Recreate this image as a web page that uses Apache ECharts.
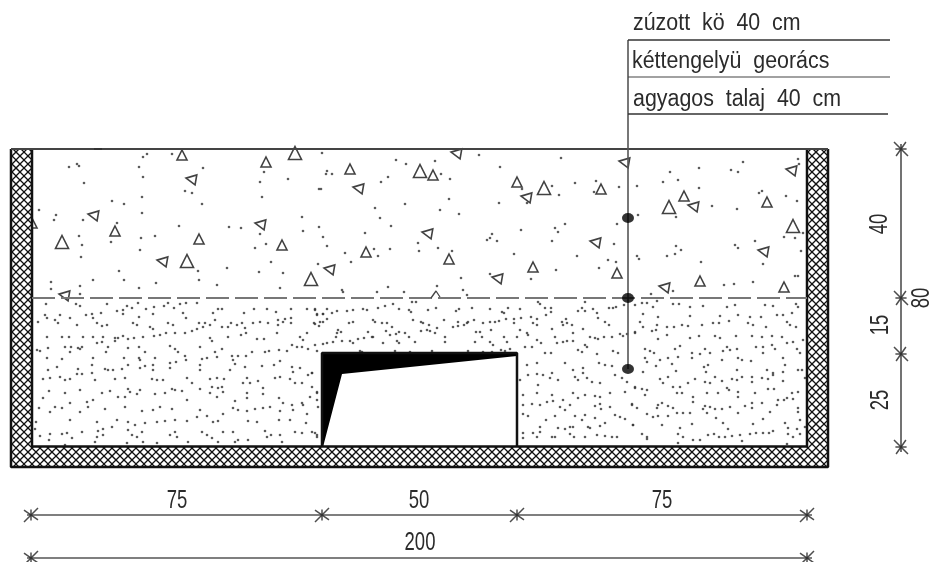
<!DOCTYPE html>
<html><head><meta charset="utf-8">
<script src="https://cdn.jsdelivr.net/npm/echarts@6/dist/echarts.min.js"></script>
<style>html,body{margin:0;padding:0;background:#fff}#c{width:939px;height:562px}</style>
</head><body><div id="c"></div>
<script>
// ---- values (drawing units = reference pixels) ----
var labelTexts = ['zúzott  kö  40  cm','kéttengelyü  georács','agyagos  talaj  40  cm','75','50','75','200','40','15','25','80'];
var labelX = [633,632,633,177,419,662,420,880,881,881,922];
var labelY = [24,62,100,501,501,501,543,224,325,400,298];
var labelVertical = [0,0,0,0,0,0,0,1,1,1,1];

var bigUp = [62,242,187,261,295,153,311,279,420,171,544,188,669,207,793,226];
var smallUp = [182,155,266,162,115,231,199,239,282,245,350,169,433,175,517,182,601,189,366,252,449,259,533,267,617,273,684,196,767,202,700,281,784,287,32,223];
var smallLeft = [191,179,93,215,260,224,162,261,64,295,456,153,624,162,358,188,526,197,427,233,595,242,329,269,497,278,791,170,693,206,763,251,664,287];

var gravelDots = [69,167,77,164,79,166,84,183,143,157,147,154,172,154,139,167,143,177,203,168,185,191,192,193,202,204,142,197,112,201,124,204,142,213,39,210,56,215,54,220,83,220,117,223,179,226,79,236,82,245,111,242,141,238,155,236,140,250,81,257,119,271,124,280,93,280,51,282,51,289,80,286,80,294,139,288,156,283,198,271,199,280,217,285,227,268,259,272,271,262,283,273,280,288,318,264,255,248,266,244,260,234,229,227,241,228,302,217,303,231,319,227,262,197,260,182,264,172,288,179,319,189,
322,153,396,160,406,164,435,161,479,155,500,167,561,158,327,171,326,174,332,174,388,177,381,182,441,174,450,179,321,189,449,199,405,204,375,208,440,210,459,214,380,218,391,226,365,233,323,237,327,246,345,253,351,262,374,249,390,249,378,256,418,243,419,251,438,248,452,251,461,278,490,274,437,286,388,287,342,290,343,292,377,292,404,292,463,290,467,295,499,203,527,203,522,189,552,186,559,195,575,183,596,181,594,192,619,187,617,224,565,224,555,228,558,232,552,241,521,230,492,234,490,238,487,240,497,241,514,254,577,256,614,244,608,260,616,262,599,268,556,270,531,279,
743,162,699,168,731,170,738,172,798,159,799,164,670,172,663,182,678,180,699,188,637,186,762,191,759,193,786,196,797,201,712,206,737,209,676,217,638,215,755,241,784,237,795,238,803,233,735,245,738,248,676,246,681,250,675,254,667,256,637,256,639,259,701,262,763,264,801,251,795,276,798,276,753,282,734,284,724,285,673,291,651,294];

var sandLeft = [46,304,76,304,80,306,107,304,117,311,123,310,127,306,132,308,138,303,146,309,154,307,164,306,168,303,174,308,180,304,186,303,197,303,183,313,186,318,218,309,222,309,244,313,254,309,267,309,276,312,291,309,307,309,315,310,323,314,317,315,
45,315,38,322,47,318,60,315,55,320,58,323,70,318,77,325,86,315,92,314,93,318,101,313,97,323,102,326,107,325,123,314,133,323,137,325,139,317,153,314,168,323,173,325,150,327,153,329,199,323,205,323,210,325,203,327,197,329,192,331,213,313,215,320,222,327,228,327,231,323,237,325,242,323,245,328,253,323,260,322,268,323,278,320,283,322,285,319,291,318,291,323,278,325,315,324,320,322,
47,337,62,337,69,337,83,337,93,337,103,337,115,338,118,338,123,336,128,339,134,338,143,337,154,336,160,335,166,333,175,333,185,333,210,338,212,341,228,337,241,335,246,333,257,339,264,339,277,333,300,337,303,340,307,333,97,343,102,342,115,341,
37,350,40,351,48,348,65,347,71,347,70,352,78,348,82,347,80,349,108,347,106,352,128,348,139,347,145,352,170,346,175,349,178,352,185,356,200,347,222,349,215,352,217,357,232,356,238,356,246,356,252,352,265,352,269,351,279,350,287,351,292,345,297,347,302,347,308,349,317,351,47,358,62,359,93,358,124,358,139,358,155,358,
48,370,57,367,78,369,77,374,82,374,92,365,92,373,105,369,108,370,113,370,122,369,128,365,140,360,140,368,145,366,153,365,153,370,170,363,176,362,170,368,186,360,202,359,200,365,200,370,207,358,233,360,235,364,230,370,245,367,262,366,274,365,280,361,292,367,293,372,300,368,312,373,308,375,
43,379,50,378,60,377,65,380,70,379,95,380,115,379,125,378,152,379,157,380,163,380,187,378,192,383,210,379,217,378,224,379,222,387,218,388,212,387,247,378,243,383,250,383,258,381,263,388,275,378,280,377,290,379,295,383,302,383,312,387,128,389,140,390,172,389,200,389,80,390,49,391,
65,393,43,398,93,400,87,402,102,393,110,391,125,397,118,397,130,392,137,394,155,394,165,393,175,390,182,391,187,400,210,393,217,397,223,392,235,401,247,393,247,398,263,394,279,398,283,403,302,403,310,397,317,393,
39,408,50,412,55,407,62,408,70,403,88,407,80,412,105,409,125,407,142,411,153,410,160,407,172,409,200,410,207,416,223,414,233,408,238,410,247,411,255,409,263,408,270,407,280,411,292,405,293,410,303,405,307,414,318,407,
36,422,70,420,97,422,117,420,128,422,135,425,145,423,157,422,165,421,175,420,187,421,197,417,213,422,218,421,248,421,257,422,279,420,290,420,306,423,35,429,62,434,67,433,82,432,103,429,112,427,98,431,128,430,142,432,175,432,202,432,223,432,233,432,265,431,295,432,315,433,
40,436,50,434,49,440,72,438,97,437,103,435,132,435,137,437,143,442,170,435,177,437,188,442,207,435,212,438,218,442,235,442,238,440,248,440,267,437,271,435,280,435,282,442,302,433,317,437,65,445,127,443,157,443,95,442];

var sandMiddle = [315,309,317,314,323,314,327,309,332,313,337,311,347,311,353,310,363,309,367,310,378,308,385,306,393,304,399,309,409,310,411,312,412,302,416,302,428,310,436,308,456,311,459,309,472,308,490,309,502,312,504,313,508,308,520,309,538,302,540,304,545,308,551,308,551,312,546,315,578,311,582,308,585,311,585,302,593,309,597,313,598,318,609,308,613,308,616,307,624,305,635,305,
314,323,319,326,323,322,327,319,349,323,353,322,373,320,375,322,382,323,387,323,392,327,413,320,421,322,423,323,429,325,444,320,453,327,458,326,458,322,464,325,467,323,468,322,474,320,483,323,490,322,495,322,499,321,506,319,514,319,521,318,514,323,531,317,537,319,533,323,537,325,562,322,566,319,567,323,563,325,572,325,605,322,609,325,
338,330,341,332,337,333,336,337,368,332,372,337,386,331,390,335,396,334,399,332,405,333,409,337,421,331,427,330,430,331,435,333,437,328,445,337,445,342,476,332,480,332,482,337,491,330,504,337,520,330,517,337,527,333,528,335,552,329,555,337,573,333,583,329,590,337,595,338,598,339,604,337,612,337,620,334,623,336,627,334,635,332,
315,345,323,344,327,343,333,342,342,341,350,341,353,343,358,339,364,338,373,337,383,343,397,341,399,343,415,342,475,342,490,342,493,345,507,342,537,340,541,343,532,347,525,347,557,343,563,342,567,341,573,341,585,345,587,347,597,354,578,350,582,352,613,351,618,353,
360,351,362,352,395,351,410,352,432,351,468,351,483,352,492,352,501,350,505,351,510,349,545,353,551,353,
527,365,537,363,528,375,537,374,543,375,552,373,565,363,573,370,583,368,583,373,575,377,538,385,550,378,558,380,578,380,587,378,592,382,600,383,520,380,537,393,523,395,552,395,573,393,585,395,578,398,595,396,600,397,610,393,625,392,523,405,532,404,540,405,547,402,553,401,563,400,570,405,560,407,565,410,600,404,595,406,601,409,610,407,632,404,523,414,528,416,555,416,546,420,575,416,585,415,582,420,595,418,615,415,620,417,625,419,523,433,533,433,540,427,540,432,558,428,565,429,570,427,573,427,570,434,585,437,588,427,590,428,600,426,605,423,597,435,605,436,612,437,617,437,523,438,537,437,552,437,555,437,574,437,633,425,615,375,622,378,627,382,635,388,599,363,605,365,612,366,317,392,317,400,312,373,312,432,317,435];

var sandRight = [642,303,647,303,657,301,653,307,673,304,679,304,690,307,703,306,727,307,735,305,765,305,773,306,796,304,798,307,
643,314,658,317,690,316,720,316,738,315,750,317,761,317,777,315,783,315,792,313,640,322,643,327,652,331,657,325,656,330,667,327,674,327,682,325,688,326,702,325,713,323,719,323,729,321,748,323,753,325,766,327,787,322,790,325,796,327,
635,333,658,339,667,335,690,338,699,336,715,336,720,338,736,336,752,336,762,337,772,336,782,337,787,343,793,342,803,340,
645,349,650,351,654,353,675,349,680,346,692,353,700,354,705,349,710,353,727,347,723,351,730,350,737,349,756,347,763,347,772,345,775,349,763,353,797,349,800,353,
645,358,647,362,660,360,668,358,678,357,692,358,708,365,722,360,738,358,742,360,751,361,783,358,785,365,802,370,798,370,656,366,672,364,704,367,706,372,737,370,767,370,773,373,676,371,643,372,
660,379,668,377,663,383,688,383,695,379,705,382,710,383,715,377,722,381,732,379,737,380,742,377,752,377,752,382,762,378,768,379,773,375,783,372,805,378,783,381,
635,387,642,389,647,390,645,395,673,387,680,387,682,393,677,393,707,393,718,393,727,388,729,390,738,392,755,393,768,389,774,389,792,393,798,392,
693,397,693,402,658,405,662,403,657,408,668,406,673,408,705,406,703,409,710,407,715,409,722,409,730,407,738,397,745,406,752,403,752,408,762,403,777,405,778,400,784,400,787,398,793,399,798,408,
632,405,637,408,647,414,653,417,658,416,668,416,677,413,683,413,690,413,707,413,716,418,723,423,738,413,753,424,763,419,770,412,785,423,800,420,798,412,
633,425,662,425,692,424,680,428,728,429,788,428,797,429,805,427,
642,434,647,437,678,434,683,437,693,440,700,440,708,435,714,434,719,437,725,437,732,436,740,435,742,441,750,434,756,433,763,433,773,431,769,433,788,434,800,434,793,437,678,443,647,439,787,444];

var wallLeft = [[11,149],[32,149],[32,446],[11,446]];
var wallBottom = [[11,446],[828,446],[828,467],[11,467]];
var wallRight = [[807,149],[828,149],[828,446],[807,446]];
var culvertFill = [[322,353],[517,353],[517,356],[342,374],[323,447]];

var outerWall = [[828,149],[828,467],[11,467],[11,149]];
var innerWall = [[32,149],[32,446.5],[807,446.5],[807,149]];
var groundTop = [[11,149],[828,149]];
var culvertOutline = [[322,447],[322,353],[517,353],[517,447]];
var geogrid = [[32,298],[807,298]];
var gridKink = [[431,298],[436,291],[440,297]];
var topMark = [[94,149],[102,149]];
var leader = [[628,369],[628,40]];
var noteLine1 = [[628,40],[890,40]];
var noteLine2 = [[628,77],[890,77]];
var noteLine3 = [[628,114],[888,114]];
var dimLine1 = [[27,515],[812,515]];
var dimLine2 = [[27,558],[812,558]];
var dimLineV = [[901,144],[901,452]];
var layerDots = [[628,218],[628,298],[628,369]];
var dimTicksH = [[31,515],[322,515],[517,515],[807,515],[31,558],[807,558]];
var dimTicksV = [[901,149],[901,298],[901,354],[901,447],[941,149],[941,447]];

// ---- drawing ----
function pairs(a){var o=[];for(var i=0;i<a.length;i+=2)o.push([a[i],a[i+1]]);return o;}
function hatch(){
  var s=8,c=document.createElement('canvas');c.width=c.height=s*2;
  var g=c.getContext('2d');g.fillStyle='#fff';g.fillRect(0,0,s*2,s*2);g.strokeStyle='#111';g.lineWidth=1.25;
  for(var i=-2;i<=4;i++){g.beginPath();g.moveTo(i*s,0);g.lineTo(i*s+2*s,2*s);g.stroke();g.beginPath();g.moveTo(i*s,2*s);g.lineTo(i*s+2*s,0);g.stroke();}
  return c;
}
var hatchImg=hatch();
function line(pts,w,col,dash,z){return {type:'line',data:pts,symbol:'none',silent:true,z:z||5,lineStyle:{width:w,color:col,type:dash||'solid',cap:'butt'}};}
function dots(a,size,col){return {type:'scatter',data:pairs(a),symbol:'circle',symbolSize:size,silent:true,z:2,itemStyle:{color:col}};}
function tri(a,size,rot){return {type:'scatter',data:pairs(a),symbol:'triangle',symbolSize:size,symbolRotate:rot,silent:true,z:2,itemStyle:{color:'#fff',borderColor:'#111',borderWidth:1.6}};}
function poly(pts,fill){return {type:'custom',coordinateSystem:'cartesian2d',data:[0],silent:true,z:4,encode:{x:[],y:[]},clip:false,
  renderItem:function(p,api){return {type:'polygon',shape:{points:pts.map(function(q){return api.coord(q);})},style:{fill:fill}};}};}
var star='path://M3 20 L17 0 M3 3 L17 17 M10 2 L10 18';
function ticks(pts,rot){return {type:'scatter',data:pts,symbol:star,symbolSize:14,symbolRotate:rot,silent:true,z:6,clip:true,itemStyle:{color:'none',borderColor:'#222',borderWidth:1.5}};}

var labels={type:'custom',coordinateSystem:'cartesian2d',silent:true,z:7,encode:{x:0,y:1},
  data:labelTexts.map(function(t,i){return [labelX[i],labelY[i],i];}),
  renderItem:function(p,api){
    var i=api.value(2),c=api.coord([api.value(0),api.value(1)]),v=labelVertical[i],left=i<3;
    return {type:'text',x:c[0],y:c[1],rotation:v?Math.PI/2:0,scaleX:left?0.93:0.74,scaleY:1,
      style:{text:labelTexts[i],font:(left?'23px':'25px')+' "Liberation Sans"',fill:'#2b2b2b',align:left?'left':'center',verticalAlign:'middle'}};
  }};

var option={animation:false,backgroundColor:'#fff',
  grid:{left:0,right:0,top:0,bottom:0},
  xAxis:{type:'value',min:0,max:939,show:false},
  yAxis:{type:'value',min:0,max:562,inverse:true,show:false},
  series:[
    dots(gravelDots,2.6,'#333'),dots(sandLeft,2.6,'#333'),dots(sandMiddle,2.6,'#333'),dots(sandRight,2.6,'#333'),
    tri(bigUp,13,0),tri(smallUp,10,0),tri(smallLeft,10,80),
    poly(wallLeft,{image:hatchImg,repeat:'repeat'}),poly(wallBottom,{image:hatchImg,repeat:'repeat'}),poly(wallRight,{image:hatchImg,repeat:'repeat'}),
    poly(culvertFill,'#000'),
    line(outerWall,2.5,'#111'),line(innerWall,2.5,'#111'),line(groundTop,2,'#444'),
    line(culvertOutline,2.5,'#111'),
    line(geogrid,2,'#777',[23,6]),line(gridKink,1.3,'#444'),line(topMark,2,'#333'),
    line(leader,1.6,'#555'),line(noteLine1,1.3,'#333'),line(noteLine2,1.2,'#444'),line(noteLine3,1.4,'#333'),
    line(dimLine1,1.5,'#555'),line(dimLine2,1.5,'#555'),line(dimLineV,1.5,'#444'),
    ticks(dimTicksH,0),ticks(dimTicksV,90),
    {type:'scatter',data:layerDots,symbol:'circle',symbolSize:[12,10],silent:true,z:8,itemStyle:{color:'#000'}},
    labels
  ]};
echarts.init(document.getElementById('c'),null,{renderer:'canvas'}).setOption(option);
</script></body></html>
